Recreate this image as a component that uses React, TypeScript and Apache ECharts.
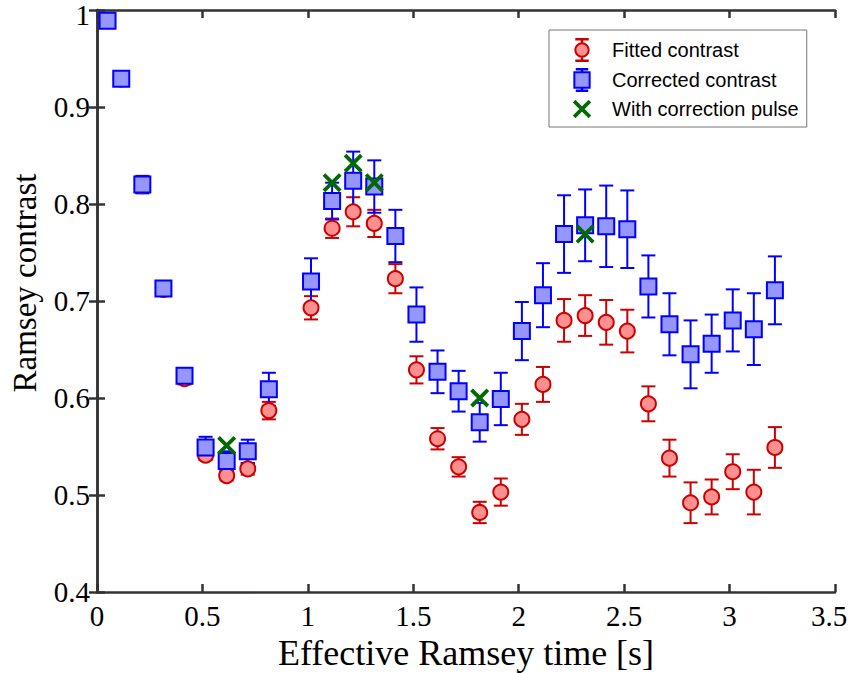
import React, { useEffect, useRef } from "react";
import * as echarts from "echarts";

// ---- data ----
const times = [
  0.05, 0.115, 0.215, 0.315, 0.415, 0.515, 0.615, 0.715, 0.815, 1.015, 1.115,
  1.215, 1.315, 1.415, 1.515, 1.615, 1.715, 1.815, 1.915, 2.015, 2.115, 2.215,
  2.315, 2.415, 2.515, 2.615, 2.715, 2.815, 2.915, 3.015, 3.115, 3.215,
];
const correctedContrast = [
  0.989, 0.929, 0.82, 0.713, 0.623, 0.549, 0.535, 0.545, 0.609, 0.72, 0.803,
  0.824, 0.818, 0.767, 0.686, 0.627, 0.607, 0.575, 0.599, 0.669, 0.706, 0.769,
  0.778, 0.777, 0.774, 0.715, 0.676, 0.645, 0.656, 0.68, 0.671, 0.711,
];
const correctedError = [
  0, 0, 0.009, 0.004, 0.006, 0.011, 0.01, 0.012, 0.017, 0.024, 0.019, 0.03,
  0.027, 0.027, 0.028, 0.022, 0.021, 0.02, 0.027, 0.03, 0.033, 0.04, 0.037,
  0.042, 0.04, 0.032, 0.032, 0.035, 0.03, 0.032, 0.037, 0.035,
];
const fittedContrast = [
  0.989, 0.929, 0.819, 0.712, 0.62, 0.541, 0.52, 0.527, 0.587, 0.693, 0.775,
  0.792, 0.78, 0.723, 0.629, 0.558, 0.529, 0.482, 0.503, 0.578, 0.614, 0.68,
  0.685, 0.678, 0.669, 0.594, 0.538, 0.492, 0.498, 0.524, 0.503, 0.549,
];
const fittedError = [
  0.003, 0.003, 0.006, 0.004, 0.006, 0.005, 0.005, 0.006, 0.009, 0.012, 0.01,
  0.015, 0.014, 0.015, 0.014, 0.011, 0.01, 0.011, 0.014, 0.016, 0.018, 0.022,
  0.021, 0.023, 0.022, 0.018, 0.019, 0.021, 0.018, 0.018, 0.023, 0.021,
];
const pulseTimes = [0.615, 1.115, 1.215, 1.315, 1.815, 2.315];
const pulseContrast = [0.551, 0.822, 0.842, 0.822, 0.6, 0.769];

const xTicks = { min: 0, max: 3.5, interval: 0.5 };
const yTicks = { min: 0.4, max: 1, interval: 0.1 };

const SERIF = "'Liberation Serif', 'Times New Roman', serif";
const SANS = "'Liberation Sans', Arial, sans-serif";

const RED_FILL = "#ff9090";
const RED_LINE = "#cc0000";
const BLUE_FILL = "#9696ff";
const BLUE_LINE = "#0000ff";
const GREEN = "#006a00";

const X_PATH =
  "path://M0 2.8L2.8 0L20 17.2L17.2 20Z M17.2 0L20 2.8L2.8 20L0 17.2Z";
const X_LEGEND =
  "path://M-2 -2L-1.9 -2L-2 -1.9Z M22 22L21.9 22L22 21.9Z M0 2.8L2.8 0L20 17.2L17.2 20Z M17.2 0L20 2.8L2.8 20L0 17.2Z";
const RED_LEGEND =
  "path://M2 0.5H14V1H2Z M7.75 1H8.25V5H7.75Z M1 12A7 7 0 1 1 15 12A7 7 0 1 1 1 12Z M7.75 19H8.25V23H7.75Z M2 23H14V23.5H2Z";
const BLUE_LEGEND =
  "path://M3 0.5H14V1H3Z M8.25 1H8.75V4H8.25Z M0.5 4H16.5V20H0.5Z M8.25 20H8.75V23H8.25Z M3 23H14V23.5H3Z";

function errorBarSeries(name: string, ys: number[], errs: number[], color: string) {
  return {
    name,
    type: "custom",
    silent: true,
    data: times.map((t, i) => [t, ys[i], errs[i]]),
    encode: { x: 0, y: 1 },
    renderItem: (params: any, api: any) => {
      const x = api.value(0);
      const y = api.value(1);
      const e = api.value(2);
      if (!e) return null;
      const top = api.coord([x, y + e]);
      const bot = api.coord([x, y - e]);
      const hw = 7;
      const style = { stroke: color, lineWidth: 2, fill: "none" };
      return {
        type: "group",
        children: [
          { type: "line", shape: { x1: top[0], y1: top[1], x2: bot[0], y2: bot[1] }, style },
          { type: "line", shape: { x1: top[0] - hw, y1: top[1], x2: top[0] + hw, y2: top[1] }, style },
          { type: "line", shape: { x1: bot[0] - hw, y1: bot[1], x2: bot[0] + hw, y2: bot[1] }, style },
        ],
      };
    },
  };
}

export default function App() {
  const ref = useRef<HTMLDivElement>(null);
  useEffect(() => {
    if (!ref.current) return;
    const chart = echarts.init(ref.current, undefined, { renderer: "svg" });
    const axisLine = { show: true, lineStyle: { color: "#333", width: 2.5 } };
    const axisTick = { show: true, inside: true, length: 8, lineStyle: { color: "#333", width: 2.5 } };
    const labelStyle = { fontFamily: SERIF, fontSize: 29, color: "#000" };
    chart.setOption({
      animation: false,
      backgroundColor: "#fff",
      textStyle: { fontFamily: SERIF },
      grid: {
        left: 97,
        right: 16,
        top: 10,
        bottom: 81,
        containLabel: false,
        outerBoundsMode: "none",
      },
      legend: {
        orient: "vertical",
        left: 549,
        top: 30,
        padding: [8, 8, 7, 22],
        itemWidth: 50,
        itemHeight: 22,
        itemGap: 6,
        borderColor: "#777",
        borderWidth: 1,
        backgroundColor: "#fff",
        symbolKeepAspect: true,
        textStyle: { fontFamily: SANS, fontSize: 20, lineHeight: 22, color: "#000" },
        data: [
          { name: "Fitted contrast", icon: RED_LEGEND },
          { name: "Corrected contrast", icon: BLUE_LEGEND },
          { name: "With correction pulse", icon: X_LEGEND },
        ],
      },
      xAxis: [
        {
          type: "value",
          ...xTicks,
          name: "Effective Ramsey time [s]",
          nameLocation: "middle",
          nameGap: 36,
          nameTextStyle: { fontFamily: SERIF, fontSize: 36, color: "#000" },
          axisLine,
          axisTick,
          splitLine: { show: false },
          axisLabel: {
            ...labelStyle,
            margin: 9,
            formatter: (v: number) => (v === xTicks.max ? "{last|" + v + "}" : String(v)),
            rich: {
              last: { fontFamily: SERIF, fontSize: 29, color: "#000", padding: [0, 12, 0, 0] },
            },
          },
        },
        {
          type: "value",
          position: "top",
          ...xTicks,
          axisLine,
          axisTick,
          splitLine: { show: false },
          axisLabel: { show: false },
        },
      ],
      yAxis: [
        {
          type: "value",
          ...yTicks,
          name: "Ramsey contrast",
          nameLocation: "middle",
          nameGap: 56,
          nameTextStyle: {
            fontFamily: SERIF,
            fontSize: 33,
            color: "#000",
            padding: [0, 0, 0, 36],
          },
          axisLine,
          axisTick,
          splitLine: { show: false },
          axisLabel: {
            ...labelStyle,
            margin: 7,
            formatter: (v: number) => (v === yTicks.max ? "{top|" + v + "}" : String(Math.round(v * 10) / 10)),
            rich: {
              top: { fontFamily: SERIF, fontSize: 29, color: "#000", padding: [10, 0, 0, 0] },
            },
          },
        },
        {
          type: "value",
          position: "right",
          ...yTicks,
          axisLine,
          axisTick,
          splitLine: { show: false },
          axisLabel: { show: false },
        },
      ],
      series: [
        errorBarSeries("fit-err", fittedContrast, fittedError, RED_LINE),
        {
          name: "Fitted contrast",
          type: "scatter",
          symbol: "circle",
          symbolSize: 15,
          data: times.map((t, i) => [t, fittedContrast[i]]),
          itemStyle: { color: RED_FILL, borderColor: RED_LINE, borderWidth: 2, opacity: 1 },
        },
        errorBarSeries("cor-err", correctedContrast, correctedError, BLUE_LINE),
        {
          name: "Corrected contrast",
          type: "scatter",
          symbol: "rect",
          symbolSize: 16,
          data: times.map((t, i) => [t, correctedContrast[i]]),
          itemStyle: { color: BLUE_FILL, borderColor: BLUE_LINE, borderWidth: 2, opacity: 1 },
        },
        {
          name: "With correction pulse",
          type: "scatter",
          symbol: X_PATH,
          symbolSize: 19,
          data: pulseTimes.map((t, i) => [t, pulseContrast[i]]),
          itemStyle: { color: GREEN, opacity: 1 },
        },
      ],
    });
    return () => chart.dispose();
  }, []);
  return (
    <div
      ref={ref}
      style={{ position: "absolute", left: 0, top: 0, width: 851, height: 673 }}
    />
  );
}
